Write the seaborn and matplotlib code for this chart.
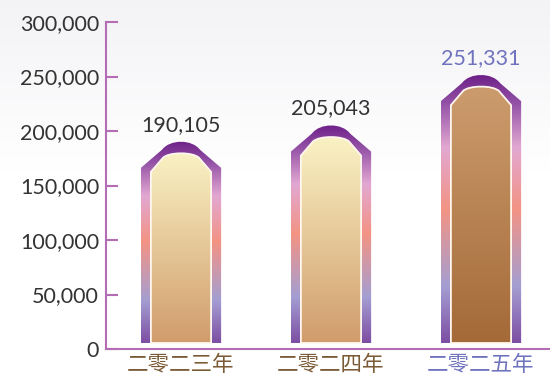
import numpy as np
import pandas as pd
import seaborn as sns
import matplotlib
matplotlib.use("Agg")
import matplotlib.pyplot as plt
from matplotlib.path import Path
from matplotlib.patches import PathPatch
from matplotlib.colors import LinearSegmentedColormap, to_rgb

# ---------------- data ----------------
years = ["二零二三年", "二零二四年", "二零二五年"]
values = [190105, 205043, 251331]
value_labels = ["190,105", "205,043", "251,331"]
y_ticks = [0, 50000, 100000, 150000, 200000, 250000, 300000]
y_tick_labels = ["0", "50,000", "100,000", "150,000", "200,000", "250,000", "300,000"]

# ---------------- style ----------------
W, H, DPI = 550, 378, 100
AXIS_COLOR = "#b46cb4"
TICK_TEXT = "#333333"
YEAR_COLOR = "#7b5a36"
HIGHLIGHT = "#6f72bd"
FRAME_STOPS = [(0.0, "#6e2188"), (0.1, "#9250a5"), (0.27, "#e2a8d2"),
               (0.5, "#f39384"), (0.79, "#a49ed2"), (1.0, "#7d4ea3")]
FILL_LIGHT = ("#fcf7c9", "#d19c6c")
FILL_DARK = ("#ce9e70", "#a46a38")
NUM_SIZE = 15.5

sns.set_theme(style="white")
plt.rcParams["font.family"] = ["Lato", "DejaVu Sans"]

fig = plt.figure(figsize=(W / DPI, H / DPI), dpi=DPI)
fig.patch.set_facecolor("white")

# subtle background gradient
bg = fig.add_axes([0, 0, 1, 1], zorder=-10)
g = np.linspace(0, 1, 200)[:, None]
top_c = np.array(to_rgb("#f3f3f6"))
bot_c = np.array([1.0, 1.0, 1.0])
t = np.clip(g / 0.45, 0, 1)
img = top_c[None, None, :] * (1 - t[..., None]) + bot_c[None, None, :] * t[..., None]
bg.imshow(img, aspect="auto", extent=[0, 1, 0, 1], origin="upper")
bg.set_axis_off()

ax = fig.add_axes([106 / W, 29 / H, 444 / W, 327 / H])
ax.patch.set_alpha(0)

df = pd.DataFrame({"year": years, "value": values})
sns.barplot(data=df, x="year", y="value", ax=ax, width=0.535,
            color="#d19c6c", errorbar=None)

ax.set_ylim(0, 300000)
ax.set_xlim(-0.5, 2.46)
ax.set_xlabel("")
ax.set_ylabel("")
fig.canvas.draw()

frame_cmap = LinearSegmentedColormap.from_list("frame", FRAME_STOPS)
to_data = ax.transData.inverted()

patches = list(ax.patches)
for i, p in enumerate(patches):
    x0 = p.get_x()
    w = p.get_width()
    h = p.get_height()
    cx = x0 + w / 2
    p.set_visible(False)
    (cxp, topp) = ax.transData.transform((cx, h))
    (xlp, basep0) = ax.transData.transform((x0, 0))
    hw = cxp - xlp                     # outer half width in px
    basep = basep0 + 6                 # small gap above axis
    s = hw / 40.0
    outer = [(-40, None), (-40, 26), (-19, 8), (-11, -2.7), (11, -2.7), (19, 8),
             (40, 26), (40, None)]
    inner = [(-30, None), (-30, 30), (-18, 16), (-12, 10), (12, 10), (18, 16),
             (30, 30), (30, None)]

    def build(pts):
        vs = []
        for dx, dy in pts:
            if dy is None:
                vs.append((cxp + dx * s, basep))
            else:
                vs.append((cxp + dx * s, topp - dy * s))
        vs.append(vs[0])
        vs = to_data.transform(np.array(vs))
        codes = [Path.MOVETO, Path.LINETO, Path.LINETO, Path.CURVE4, Path.CURVE4,
                 Path.CURVE4, Path.LINETO, Path.LINETO, Path.CLOSEPOLY]
        return Path(vs, codes)

    base_d = to_data.transform((cxp, basep))[1]
    opath = build(outer)
    opatch = PathPatch(opath, facecolor="none", edgecolor="none", zorder=3)
    ax.add_patch(opatch)
    grad = np.linspace(0, 1, 256)[:, None]
    im = ax.imshow(frame_cmap(grad), aspect="auto", origin="upper",
                   extent=[x0, x0 + w, base_d, h], zorder=3, interpolation="bilinear")
    im.set_clip_path(opatch)

    ipath = build(inner)
    ipatch = PathPatch(ipath, facecolor="none", edgecolor="#fff6ee", lw=1.3, zorder=5)
    ax.add_patch(ipatch)
    c1, c2 = FILL_DARK if i == 2 else FILL_LIGHT
    fill_cmap = LinearSegmentedColormap.from_list(f"fill{i}", [c1, c2])
    im2 = ax.imshow(fill_cmap(grad), aspect="auto", origin="upper",
                    extent=[x0, x0 + w, base_d, h], zorder=4, interpolation="bilinear")
    im2.set_clip_path(ipatch)

    ax.annotate(value_labels[i], (cx, h), xytext=(0, 5), textcoords="offset points",
                ha="center", va="bottom", fontsize=NUM_SIZE,
                color=HIGHLIGHT if i == 2 else TICK_TEXT)

ax.set_ylim(0, 300000)
ax.set_xlim(-0.5, 2.46)
ax.set_yticks(y_ticks)
ax.set_yticklabels(y_tick_labels)
for side in ["top", "right"]:
    ax.spines[side].set_visible(False)
for side in ["left", "bottom"]:
    ax.spines[side].set_color(AXIS_COLOR)
    ax.spines[side].set_linewidth(1.5)
ax.tick_params(axis="y", direction="in", length=8.6, width=1.5, color=AXIS_COLOR,
               pad=5, labelsize=NUM_SIZE, labelcolor=TICK_TEXT, left=True)
ax.tick_params(axis="x", length=0, pad=3.5)
for i, lab in enumerate(ax.get_xticklabels()):
    lab.set_fontfamily(["Noto Sans CJK SC", "DejaVu Sans"])
    lab.set_fontsize(15.5)
    lab.set_fontweight("light")
    lab.set_color(HIGHLIGHT if i == 2 else YEAR_COLOR)

fig.savefig("out.png", dpi=DPI)
